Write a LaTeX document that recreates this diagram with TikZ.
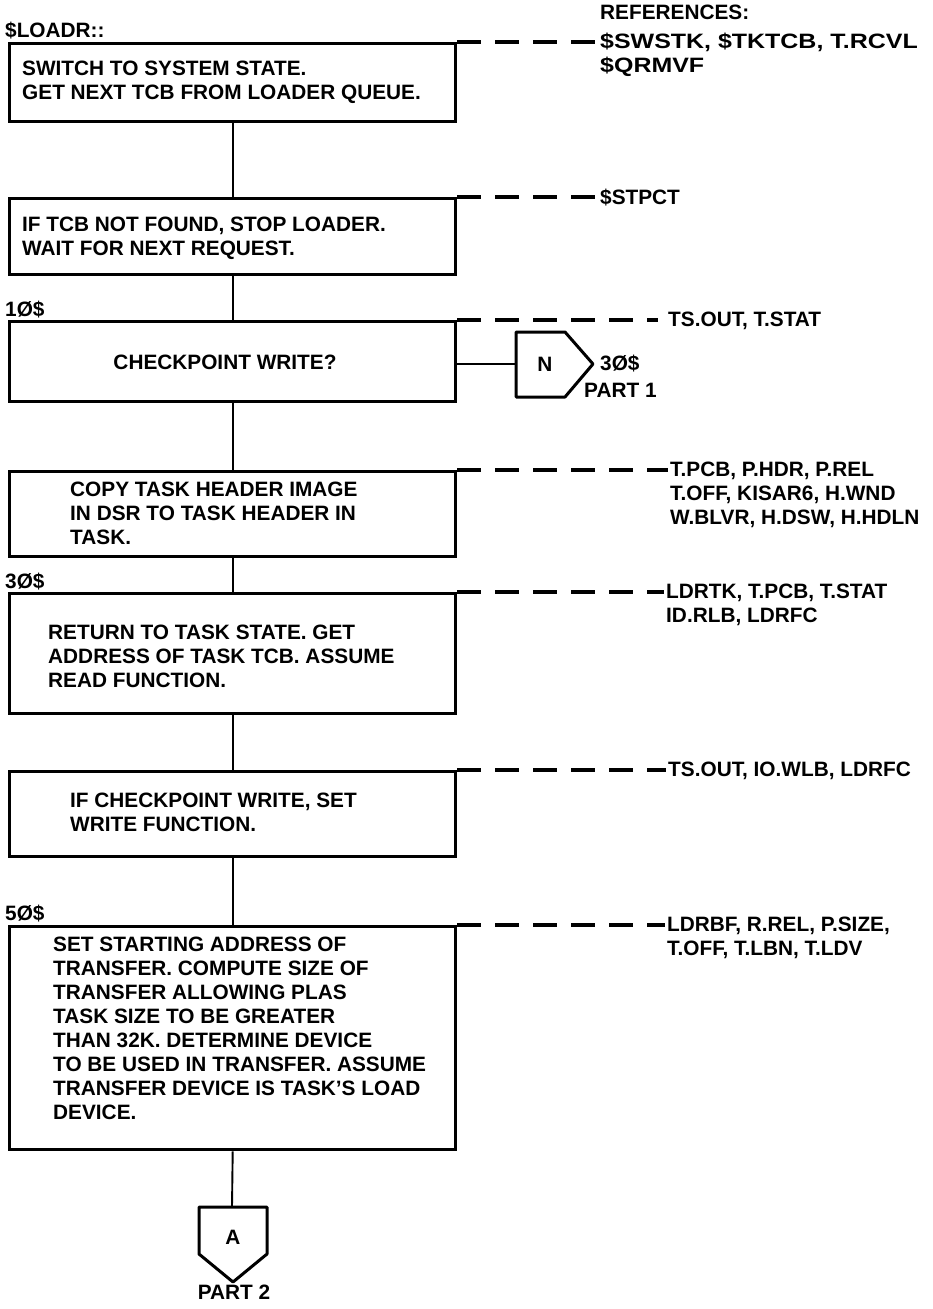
\documentclass[tikz,border=0pt]{standalone}
\usepackage{fontspec}
\setmainfont{Liberation Sans}
\newfontfamily\widesans{Liberation Sans}[FakeStretch=1.2]
\begin{document}
\begin{tikzpicture}[x=1pt,y=-1pt,
  lbl/.style={font=\fontsize{20.8}{24}\selectfont\bfseries, inner sep=0pt},
  txt/.style={lbl, anchor=north west, align=left},
  procbox/.style={draw, line width=3.4pt, anchor=north west, inner sep=0pt, minimum width=446pt},
  flow/.style={line width=1.9pt},
  refline/.style={line width=3.2pt, dash pattern=on 24pt off 14pt},
  offpage/.style={line width=3pt, line join=round}]
\useasboundingbox (0,0) rectangle (932,1309);

% header
\node[txt] (refs) at (600,5) {REFERENCES:};
\node[txt] (entry) at (5,22) {\$LOADR::};

% process boxes
\node[procbox, minimum height=78pt]  (b1) at (8,42)  {};
\node[procbox, minimum height=76pt]  (b2) at (8,197) {};
\node[procbox, minimum height=80pt]  (b3) at (8,320) {};
\node[procbox, minimum height=85pt]  (b4) at (8,470) {};
\node[procbox, minimum height=120pt] (b5) at (8,592) {};
\node[procbox, minimum height=85pt]  (b6) at (8,770) {};
\node[procbox, minimum height=223pt] (b7) at (8,925) {};

% box texts
\node[txt] (t1) at (22,61) {SWITCH TO SYSTEM STATE.\\GET NEXT TCB FROM LOADER QUEUE.};
\node[txt] (t2) at (22,217) {IF TCB NOT FOUND, STOP LOADER.\\WAIT FOR NEXT REQUEST.};
\node[lbl] (t3) at (225,362) {CHECKPOINT WRITE?};
\node[txt] (t4) at (70,482) {COPY TASK HEADER IMAGE\\IN DSR TO TASK HEADER IN\\TASK.};
\node[txt] (t5) at (48,625) {RETURN TO TASK STATE. GET\\ADDRESS OF TASK TCB. ASSUME\\READ FUNCTION.};
\node[txt] (t6) at (70,793) {IF CHECKPOINT WRITE, SET\\WRITE FUNCTION.};
\node[txt] (t7) at (53,937) {SET STARTING ADDRESS OF\\TRANSFER. COMPUTE SIZE OF\\TRANSFER ALLOWING PLAS\\TASK SIZE TO BE GREATER\\THAN 32K. DETERMINE DEVICE\\TO BE USED IN TRANSFER. ASSUME\\TRANSFER DEVICE IS TASK'S LOAD\\DEVICE.};

% labels
\node[txt] (l10) at (5,301) {1Ø\$};
\node[txt] (l30) at (5,573) {3Ø\$};
\node[txt] (l50) at (5,905) {5Ø\$};

% flow lines
\draw[flow] (b1.south) -- (b2.north);
\draw[flow] (b2.south) -- (b3.north);
\draw[flow] (b3.south) -- (b4.north);
\draw[flow] (b4.south) -- (b5.north);
\draw[flow] (b5.south) -- (b6.north);
\draw[flow] (b6.south) -- (b7.north);

% connector N -> 30$ part 1
\coordinate (nw) at (516,364);
\draw[offpage] (516,332) -- (565,332) -- (593,364) -- (565,397) -- (516,397) -- cycle;
\node[lbl] (nlbl) at (545,364) {N};
\node[txt] (n30) at (600,355) {3Ø\$};
\node[txt] (np1) at (584,383) {PART 1};
\draw[flow] (b3.east |- nw) -- (nw);

% connector A -> part 2
\coordinate (atop) at (232,1207);
\draw[offpage] (199,1207) -- (267,1207) -- (267,1254) -- (233,1282) -- (199,1254) -- cycle;
\node[lbl] (albl) at (233,1237) {A};
\node[lbl] (ap2) at (234,1292) {PART 2};
\draw[flow] (b7.south) -- (atop);

% references
\coordinate (r1) at (598,42);
\coordinate (r2) at (598,197);
\coordinate (r3) at (658,320);
\coordinate (r4) at (668,470);
\coordinate (r5) at (664,592);
\coordinate (r6) at (666,770);
\coordinate (r7) at (665,925);
\draw[refline] (b1.north east) -- (r1);
\draw[refline] (b2.north east) -- (r2);
\draw[refline] (b3.north east) -- (r3);
\draw[refline] (b4.north east) -- (r4);
\draw[refline] (b5.north east) -- (r5);
\draw[refline] (b6.north east) -- (r6);
\draw[refline] (b7.north east) -- (r7);
\node[txt, font=\fontsize{20.8}{24}\widesans\bfseries] (x1) at (600,33) {\$SWSTK, \$TKTCB, T.RCVL\\\$QRMVF};
\node[txt] (x2) at (600,189) {\$STPCT};
\node[txt] (x3) at (668,312) {TS.OUT, T.STAT};
\node[txt] (x4) at (670,462) {T.PCB, P.HDR, P.REL\\T.OFF, KISAR6, H.WND\\W.BLVR, H.DSW, H.HDLN};
\node[txt] (x5) at (666,584) {LDRTK, T.PCB, T.STAT\\ID.RLB, LDRFC};
\node[txt] (x6) at (668,762) {TS.OUT, IO.WLB, LDRFC};
\node[txt] (x7) at (667,917) {LDRBF, R.REL, P.SIZE,\\T.OFF, T.LBN, T.LDV};
\end{tikzpicture}
\end{document}
